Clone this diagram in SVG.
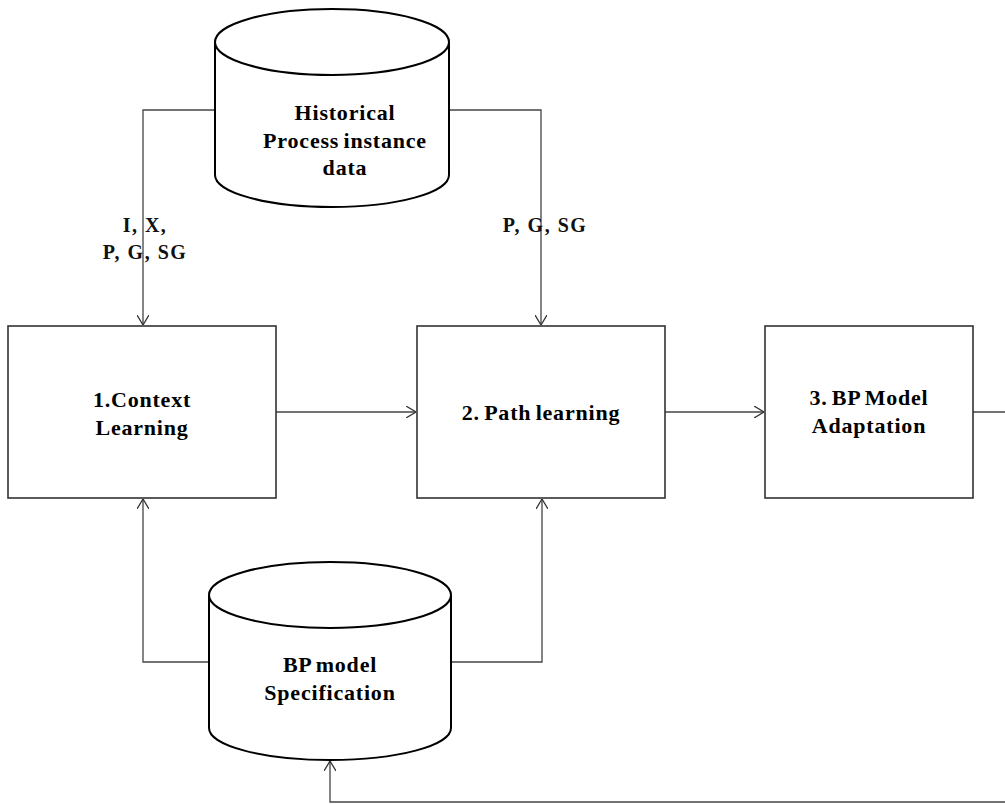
<svg xmlns="http://www.w3.org/2000/svg" width="1005" height="804" viewBox="0 0 1005 804">
  <defs>
    <marker id="open" viewBox="0 0 10 12" refX="10" refY="6" markerWidth="10" markerHeight="12" markerUnits="userSpaceOnUse" orient="auto">
      <path d="M0,0 L10,6 L0,12" fill="none" stroke="#333" stroke-width="1.3"/>
    </marker>
  </defs>
  <style>
    .box { fill: #fff; stroke: #333; stroke-width: 1.6; }
    .cyl { fill: #fff; stroke: #000; stroke-width: 2; }
    .wire { fill: none; stroke: #444; stroke-width: 1.3; }
    .lbl { font-family: "Liberation Serif", "Times New Roman", serif; font-weight: bold; font-size: 22px; letter-spacing: 0.8px; word-spacing: -2px; text-anchor: middle; fill: #000; }
    .tag { font-family: "Liberation Serif", "Times New Roman", serif; font-weight: bold; font-size: 20px; letter-spacing: 1.5px; text-anchor: middle; fill: #111; }
  </style>
  <rect width="1005" height="804" fill="#fff"/>

  <!-- connectors -->
  <g id="connectors">
    <path class="wire" d="M215,110 H143 V325" marker-end="url(#open)"/>
    <path class="wire" d="M449,110 H541 V325" marker-end="url(#open)"/>
    <path class="wire" d="M276,412 H416" marker-end="url(#open)"/>
    <path class="wire" d="M665,412 H764" marker-end="url(#open)"/>
    <path class="wire" d="M209,662 H143 V499" marker-end="url(#open)"/>
    <path class="wire" d="M451,662 H542 V499" marker-end="url(#open)"/>
    <path class="wire" d="M973,412 H1012 V802 H330 V761" marker-end="url(#open)"/>
    <text class="tag" x="145" y="232">I, X,</text>
    <text class="tag" x="145" y="259">P, G, SG</text>
    <text class="tag" x="545" y="232">P, G, SG</text>
  </g>

  <!-- historical data store -->
  <g id="historical-data">
    <path class="cyl" d="M215,42 V175 A117,32 0 0 0 449,175 V42"/>
    <ellipse class="cyl" cx="332" cy="42" rx="117" ry="33"/>
    <text class="lbl" x="345" y="120">Historical</text>
    <text class="lbl" x="345" y="148">Process instance</text>
    <text class="lbl" x="345" y="175">data</text>
  </g>

  <!-- step 1 -->
  <g id="context-learning">
    <rect class="box" x="8" y="326" width="268" height="172"/>
    <text class="lbl" x="142" y="407">1.Context</text>
    <text class="lbl" x="142" y="435">Learning</text>
  </g>

  <!-- step 2 -->
  <g id="path-learning">
    <rect class="box" x="417" y="326" width="248" height="172"/>
    <text class="lbl" x="541" y="420">2. Path learning</text>
  </g>

  <!-- step 3 -->
  <g id="model-adaptation">
    <rect class="box" x="765" y="326" width="208" height="172"/>
    <text class="lbl" x="869" y="405">3. BP Model</text>
    <text class="lbl" x="869" y="433">Adaptation</text>
  </g>

  <!-- model specification store -->
  <g id="model-specification">
    <path class="cyl" d="M209,595 V728 A121,32 0 0 0 451,728 V595"/>
    <ellipse class="cyl" cx="330" cy="595" rx="121" ry="33"/>
    <text class="lbl" x="330" y="672">BP model</text>
    <text class="lbl" x="330" y="700">Specification</text>
  </g>
</svg>
